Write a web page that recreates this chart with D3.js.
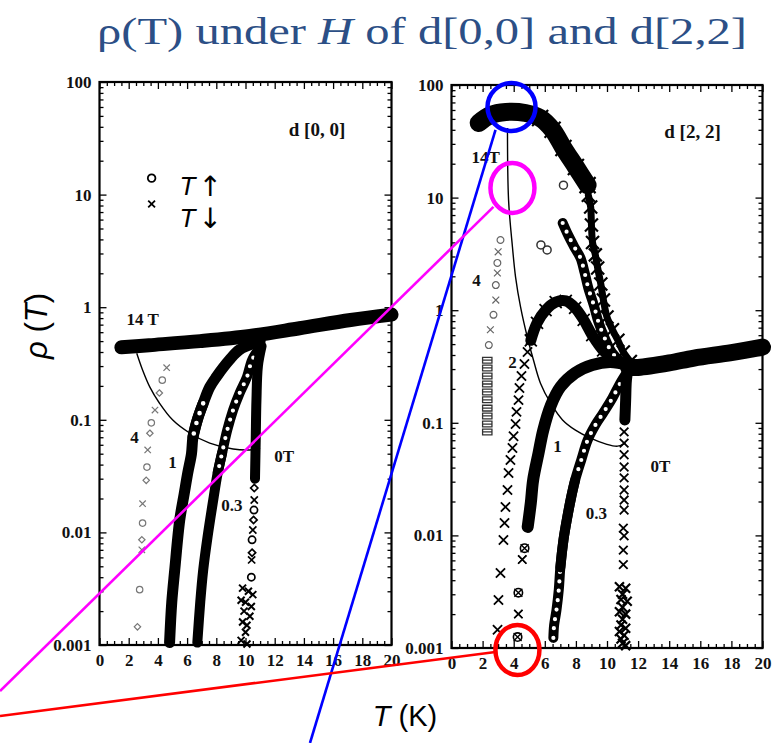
<!DOCTYPE html>
<html>
<head>
<meta charset="utf-8">
<script src="https://cdn.jsdelivr.net/npm/d3@7"></script>
<style>
  body { margin: 0; background: #fff; }
  svg { display: block; }
</style>
</head>
<body>
<svg id="chart" width="779" height="743"></svg>
<script>
// ---------- Data: rho(T) in arbitrary units, T in K ----------
// film d[0,0]
const d00_14T = [[1.5,0.44],[3.4,0.46],[6.9,0.50],[10.3,0.555],[13.7,0.65],[17.2,0.77],[20,0.86]];
const d00_1T = [[11.0,0.5],[9.6,0.42],[8.9,0.34],[8.0,0.24],[7.55,0.195],[7.1,0.14],[6.7,0.10],[6.4,0.07],
                [6.3,0.05],[6.05,0.034],[5.8,0.022],[5.5,0.013],[5.15,0.0046],[4.95,0.0024],[4.8,0.00105]];
const d00_03T = [[10.9,0.42],[10.45,0.34],[10.1,0.24],[9.6,0.173],[9.15,0.122],[8.75,0.081],[8.4,0.051],
                 [8.1,0.034],[7.75,0.018],[7.4,0.0091],[7.1,0.0046],[6.9,0.0024],[6.7,0.00105]];
const d00_0T = [[11.1,0.45],[10.85,0.3],[10.75,0.15],[10.7,0.066],[10.65,0.03]];
const d00_0T_pts = [[10.6,0.0248],[10.6,0.0194],[10.58,0.0158],[10.55,0.0129],[10.5,0.0105],[10.45,0.0086],
                    [10.45,0.0066],[10.42,0.0057],[10.4,0.004]];
const d00_0T_low = [[9.8,0.0032],[10.2,0.003],[10.5,0.0028],[9.7,0.0025],[10.0,0.0024],[10.4,0.0022],[9.9,0.002],
                    [10.3,0.0018],[9.8,0.0016],[10.1,0.0015],[10.0,0.0013],[9.7,0.0011],[10.1,0.00102]];
const d00_4T = [[4.6,0.29],[4.3,0.225],[4.1,0.173],[3.8,0.122],[3.55,0.094],[3.45,0.076],[3.3,0.054],[3.25,0.038],
                [3.2,0.029],[2.95,0.018],[2.95,0.0121],[2.9,0.0086],[2.9,0.007],[2.75,0.0031],[2.6,0.00145]];
const d00_onset = [[2.55,0.39],[2.95,0.277],[3.45,0.195],[4.1,0.141],[5.0,0.1],[6.2,0.076],[7.55,0.062],
                   [9.15,0.055],[10.3,0.054],[11.0,0.056]];

// film d[2,2]
const d22_14T = [[1.75,46],[2.5,54],[3.5,57.6],[4.75,56.4],[5.7,51],[6.5,40],[7.2,27.6],[8.0,18.7],[8.75,12.9]];
const d22_14T_down = [[8.8,10.5],[8.95,8.25],[9.0,5.7],[9.07,4.0],[9.25,3.1],[9.4,2.37],[9.6,1.71],[9.77,1.23],
                      [10.0,0.87],[10.35,0.67],[10.7,0.54],[11.05,0.425],[11.5,0.35]];
const d22_14T_up = [[7.15,5.95],[7.5,4.65],[7.9,3.64],[8.3,2.9],[8.55,2.18],[8.8,1.57],[9.15,1.11],[9.45,0.785],
                    [9.85,0.566],[10.3,0.425],[10.9,0.347]];
const d22_14T_extra = [[7.2,12.9],[6.15,3.43],[5.75,3.8]];
const d22_4T = [[3.15,4.2],[3.0,3.3],[2.95,2.63],[2.95,2.14],[2.85,1.67],[2.85,1.23],[2.7,0.91],[2.5,0.67],[2.4,0.49]];
const d22_4T_col = [[2.3,0.36],[2.3,0.307],[2.3,0.26],[2.3,0.221],[2.3,0.188],[2.3,0.16],[2.3,0.135],[2.3,0.115],
                    [2.3,0.0975],[2.3,0.083]];
const d22_2T_low = [[5.08,0.543],[4.89,0.425],[4.69,0.333],[4.5,0.26],[4.37,0.204],[4.31,0.159],[4.18,0.125],
                    [4.12,0.0975],[3.99,0.076],[3.92,0.0597],[3.79,0.0468],[3.67,0.0358],[3.6,0.0253],[3.47,0.0179],
                    [3.41,0.0129],[3.34,0.0091],[3.15,0.00464],[3.02,0.00267],[2.96,0.00145]];
const d22_2T = [[5.1,0.54],[5.5,0.77],[6.05,1.0],[6.7,1.18],[7.35,1.21],[7.95,1.05],[8.5,0.82],[9.05,0.6],
                [9.75,0.44],[10.55,0.36],[11.4,0.31]];
const d22_1T = [[4.9,0.0119],[5.1,0.0194],[5.25,0.031],[5.6,0.054],[5.9,0.086],[6.4,0.144],[7.0,0.208],
                [7.95,0.277],[9.05,0.326],[10.2,0.347],[11.4,0.326]];
const d22_1T_pts = [[4.7,0.0077],[4.55,0.0061],[4.3,0.0031],[4.3,0.002],[4.25,0.00125]];
const d22_03T = [[6.55,0.00123],[6.6,0.0016],[6.75,0.00217],[6.9,0.0033],[7.0,0.0052],[7.2,0.0091],[7.45,0.0146],
                 [7.7,0.022],[7.95,0.031],[8.35,0.047],[8.75,0.07],[9.25,0.0955],[9.75,0.122],[10.35,0.166],
                 [10.85,0.225],[11.3,0.283]];
const d22_0T = [[11.4,0.33],[11.25,0.24],[11.2,0.159],[11.15,0.106]];
const d22_0T_pts = [[11.1,0.083],[11.1,0.066],[11.1,0.052],[11.1,0.0405],[11.1,0.0324],[11.1,0.0253],[11.1,0.0206],
                    [11.1,0.0168],[11.05,0.0116],[11.1,0.0099],[11.05,0.0074],[11.05,0.0055]];
const d22_0T_low = [[10.8,0.0035],[11.2,0.0034],[11.0,0.003],[10.9,0.0027],[11.3,0.0026],[11.0,0.0023],[10.8,0.0021],
                    [11.2,0.002],[11.0,0.0018],[10.9,0.0016],[11.2,0.0015],[10.8,0.0014],[11.1,0.0013],[10.9,0.0012],
                    [11.0,0.0011],[11.2,0.00105]];
const d22_normal = [[11.4,0.31],[12,0.31],[14,0.34],[15.6,0.376],[18,0.42],[20,0.47]];
const d22_onset = [[3.6,41.5],[3.67,9.5],[3.92,3.64],[4.12,1.97],[4.44,1.07],[4.89,0.566],[5.27,0.361],[5.72,0.225],
                   [6.37,0.15],[7.14,0.106],[7.97,0.086],[8.94,0.073],[9.9,0.065],[10.68,0.062],[11.19,0.066]];

// ---------- Axes ----------
const xTickValues = [0,2,4,6,8,10,12,14,16,18,20];
const yTickValues = [0.001,0.01,0.1,1,10,100];
const yTickLabels = ["0.001","0.01","0.1","1","10","100"];

// field labels: [text, T, rho]
const d00_labels = [["14 T",2.96,0.77],["4",2.4,0.069],["1",5.0,0.042],["0.3",9.07,0.0175],["0T",12.65,0.047],["d [0, 0]",14.9,37.5]];
const d22_labels = [["14T",2.19,22.9],["4",1.6,1.85],["2",3.92,0.34],["1",6.82,0.061],["0.3",9.32,0.0158],["0T",13.44,0.0413],["d [2, 2]",15.5,38.3]];

// ---------- Drawing ----------
const svg = d3.select("#chart");
const serif = "'Liberation Serif', 'Times New Roman', serif";
const sans = "'Liberation Sans', Arial, sans-serif";

function makePanel(x0, x1, yb, yt) {
  const g = svg.append("g");
  const x = d3.scaleLinear().domain([0, 20]).range([x0, x1]);
  const y = d3.scaleLog().domain([0.001, 100]).range([yb, yt]);
  return { g, x, y };
}

function drawFrame(P) {
  const { g, x, y } = P;
  const minorX = d3.range(0, 20.01, 0.5).filter(v => v % 2 !== 0);
  const minorY = [];
  [0.001, 0.01, 0.1, 1, 10].forEach(dec => { for (let k = 2; k <= 9; k++) minorY.push(dec * k); });
  const [xa, xb] = x.range(), [ya, yb] = y.range();

  const styleAxis = (s, lab) => {
    s.select(".domain").remove();
    s.selectAll("line").attr("stroke", "#000").attr("stroke-width", 1.3);
    if (lab) s.selectAll("text").style("font-family", serif).style("font-size", "17px")
      .style("font-weight", "bold").attr("fill", "#111");
  };
  [
    [d3.axisBottom(x).tickValues(xTickValues).tickSize(-7).tickPadding(9).tickFormat(d3.format("d")), ya, true],
    [d3.axisBottom(x).tickValues(minorX).tickSize(-4).tickFormat(""), ya, false],
    [d3.axisTop(x).tickValues(xTickValues).tickSize(-7).tickFormat(""), yb, false],
    [d3.axisTop(x).tickValues(minorX).tickSize(-4).tickFormat(""), yb, false]
  ].forEach(([a, pos, lab]) => styleAxis(g.append("g").attr("transform", `translate(0,${pos})`).call(a), lab));
  [
    [d3.axisLeft(y).tickValues(yTickValues).tickSize(-7).tickPadding(8).tickFormat((d, i) => yTickLabels[i]), xa, true],
    [d3.axisLeft(y).tickValues(minorY).tickSize(-4).tickFormat(""), xa, false],
    [d3.axisRight(y).tickValues(yTickValues).tickSize(-7).tickFormat(""), xb, false],
    [d3.axisRight(y).tickValues(minorY).tickSize(-4).tickFormat(""), xb, false]
  ].forEach(([a, pos, lab]) => styleAxis(g.append("g").attr("transform", `translate(${pos},0)`).call(a), lab));

  g.append("rect").attr("x", xa).attr("y", yb).attr("width", xb - xa).attr("height", ya - yb)
    .attr("fill", "none").attr("stroke", "#000").attr("stroke-width", 2.2);
}

function lineGen(P) {
  return d3.line().x(d => P.x(d[0])).y(d => P.y(d[1])).curve(d3.curveCatmullRom.alpha(0.5));
}

function band(P, data, w, color = "#000") {
  P.g.append("path").attr("d", lineGen(P)(data)).attr("fill", "none")
    .attr("stroke", color).attr("stroke-width", w)
    .attr("stroke-linecap", "round").attr("stroke-linejoin", "round");
}

// a band with a row of white holes, looking like a dense chain of open circles
function chain(P, data, w) {
  band(P, data, w);
  P.g.append("path").attr("d", lineGen(P)(data)).attr("fill", "none")
    .attr("stroke", "#fff").attr("stroke-width", w * 0.42)
    .attr("stroke-dasharray", `0 ${w * 0.95}`).attr("stroke-linecap", "round");
}

function thin(P, data) {
  P.g.append("path").attr("d", lineGen(P)(data)).attr("fill", "none")
    .attr("stroke", "#000").attr("stroke-width", 1.4);
}

function shapePath(shape, s) {
  if (shape === "x") return `M${-s},${-s}L${s},${s}M${-s},${s}L${s},${-s}`;
  if (shape === "o") return `M${s},0A${s},${s} 0 1,1 ${-s},0A${s},${s} 0 1,1 ${s},0`;
  if (shape === "d") return `M0,${-s}L${s},0L0,${s}L${-s},0Z`;
  if (shape === "sq") return `M${-s * 1.3},${-s * 0.8}H${s * 1.3}V${s * 0.8}H${-s * 1.3}ZM${-s * 1.3},0H${s * 1.3}`;
  return "";
}

function marks(P, data, shape, s, color = "#000", sw = 1.6) {
  P.g.append("g").selectAll("path").data(data).join("path")
    .attr("transform", d => `translate(${P.x(d[0])},${P.y(d[1])})`)
    .attr("d", (d, i) => shapePath(typeof shape === "function" ? shape(d, i) : shape, s))
    .attr("fill", "none").attr("stroke", color).attr("stroke-width", sw);
}

function labels(P, list) {
  P.g.append("g").selectAll("text").data(list).join("text")
    .attr("x", d => P.x(d[1])).attr("y", d => P.y(d[2]))
    .attr("text-anchor", "middle").attr("dominant-baseline", "central")
    .style("font-family", serif).attr("font-weight", "bold")
    .attr("font-size", d => d[0].startsWith("d") ? 19 : 17).attr("fill", "#111")
    .text(d => d[0]);
}

// ----- panel d[0,0] -----
const L = makePanel(99.5, 391.5, 645, 82);
drawFrame(L);
thin(L, d00_onset);
marks(L, d00_4T, (d, i) => ["x", "o", "d"][i % 3], 3.2, "#777", 1.2);
band(L, d00_1T, 11);
chain(L, d00_1T.filter(d => d[1] > 0.06 && d[1] < 0.16), 11);
band(L, d00_03T.filter(d => d[1] < 0.06), 10);
chain(L, d00_03T.filter(d => d[1] >= 0.03), 10);
band(L, d00_0T, 10);
marks(L, d00_0T_pts, (d, i) => ["d", "x", "o"][i % 3], 3.6, "#000", 1.7);
marks(L, d00_0T_low, "x", 3.5, "#000", 2);
band(L, d00_14T, 14);
labels(L, d00_labels);

// legend: open circles for warming, crosses for cooling
const legend = [["o", 3.57, 14.0, 12.0, "\u2191"], ["x", 3.57, 8.25, 6.2, "\u2193"]];
legend.forEach(([shape, t, r, rText, arrow]) => {
  L.g.append("path").attr("transform", `translate(${L.x(t)},${L.y(r)})`)
    .attr("d", shapePath(shape, shape === "o" ? 3.8 : 3.4)).attr("fill", "none")
    .attr("stroke", "#000").attr("stroke-width", 1.8);
  const tx = L.g.append("text").attr("x", L.x(t) + 28).attr("y", L.y(rText))
    .attr("dominant-baseline", "central").style("font-family", sans).attr("font-size", 26).attr("fill", "#000");
  tx.append("tspan").attr("font-style", "italic").text("T");
  tx.append("tspan").attr("dx", 3).style("font-family", "'DejaVu Sans', sans-serif")
    .attr("font-size", 28).text(arrow);
});

// ----- panel d[2,2] -----
const R = makePanel(451.5, 762.5, 648, 85);
drawFrame(R);
thin(R, d22_onset);
marks(R, d22_4T, (d, i) => ["o", "x"][i % 2], 3.4, "#666", 1.2);
marks(R, d22_4T_col, "sq", 3.6, "#333", 1.3);
marks(R, d22_14T_extra, "o", 4, "#333", 1.5);
marks(R, d22_2T_low, "x", 4.6, "#000", 1.8);
band(R, d22_2T, 11);
marks(R, d22_2T, "x", 6, "#000", 1.8);
chain(R, d22_14T_up, 10);
band(R, d22_14T_down, 7);
marks(R, d22_14T_down, "x", 6.5, "#000", 2.2);
band(R, d22_1T, 12);
marks(R, d22_1T_pts, (d, i) => ["o", "x"][i % 2], 4.2, "#000", 1.6);
marks(R, d22_1T_pts, "x", 4, "#000", 1.4);
chain(R, d22_03T, 10);
band(R, d22_03T.filter(d => d[1] > 0.004 && d[1] < 0.04), 10);
band(R, d22_0T, 11);
marks(R, d22_0T_pts, "x", 4.3, "#000", 1.8);
marks(R, d22_0T_low, "x", 4.5, "#000", 2.2);
band(R, d22_normal, 17);
band(R, d22_14T, 18);
marks(R, d22_14T.filter(d => d[0] > 5.5), "x", 8, "#000", 2.2);
labels(R, d22_labels);

// ----- titles -----
const title = svg.append("text").attr("x", 422).attr("y", 44).attr("text-anchor", "middle")
  .style("font-family", serif).attr("font-size", 38).attr("fill", "#2c4f86")
  .attr("textLength", 650).attr("lengthAdjust", "spacingAndGlyphs");
title.append("tspan").text("\u03c1(T) under ");
title.append("tspan").attr("font-style", "italic").text("H");
title.append("tspan").text(" of d[0,0] and d[2,2]");

const xl = svg.append("text").attr("x", 405).attr("y", 726).attr("text-anchor", "middle")
  .style("font-family", sans).attr("font-size", 29).attr("fill", "#000");
xl.append("tspan").attr("font-style", "italic").text("T");
xl.append("tspan").text(" (K)");

const yl = svg.append("text").attr("transform", "translate(47,326) rotate(-90)").attr("text-anchor", "middle")
  .style("font-family", sans).attr("font-size", 31).attr("fill", "#000");
yl.append("tspan").attr("font-style", "italic").text("\u03c1");
yl.append("tspan").text(" (");
yl.append("tspan").attr("font-style", "italic").text("T");
yl.append("tspan").text(")");

// ----- highlight marks over panel d[2,2] -----
const highlights = [
  { color: "#0000ff", t: 3.86, r: 63.8, rx: 24, ry: 24, from: [-16, 23], to: [310, 743] },
  { color: "#ff00ff", t: 3.92, r: 12.2, rx: 22, ry: 25, from: [-19, 19], to: [0, 691] },
  { color: "#ff0000", t: 4.24, r: 0.00096, rx: 22, ry: 25, from: [-22, 2], to: [0, 716] }
];
highlights.forEach(h => {
  const cx = R.x(h.t), cy = R.y(h.r);
  svg.append("line").attr("x1", cx + h.from[0]).attr("y1", cy + h.from[1])
    .attr("x2", h.to[0]).attr("y2", h.to[1]).attr("stroke", h.color).attr("stroke-width", 2.6);
  svg.append("ellipse").attr("cx", cx).attr("cy", cy).attr("rx", h.rx).attr("ry", h.ry)
    .attr("fill", "none").attr("stroke", h.color).attr("stroke-width", 4.5);
});
</script>
</body>
</html>
